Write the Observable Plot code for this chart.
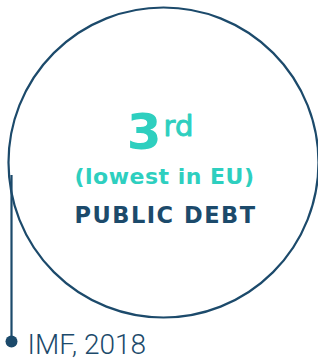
<!DOCTYPE html>
<html>
<head>
<meta charset="utf-8">
<script src="https://cdn.jsdelivr.net/npm/d3@7"></script>
<script src="https://cdn.jsdelivr.net/npm/@observablehq/plot@0.6"></script>
<style>
  html, body { margin: 0; padding: 0; background: #fff; }
  svg { display: block; font-family: "DejaVu Sans", sans-serif; }
</style>
</head>
<body>
<div id="chart"></div>
<script>
const rankNumber = ["3"];
const rankSuffix = ["rd"];
const rankNote = ["(lowest in EU)"];
const topic = ["PUBLIC DEBT"];
const source = ["IMF, 2018"];

const navy = "#1c4a6b";
const teal = "#2ecfbf";

const plot = Plot.plot({
  width: 318,
  height: 360,
  margin: 0,
  x: {domain: [0, 318], range: [0, 318], axis: null},
  y: {domain: [0, 360], range: [0, 360], axis: null},
  marks: [
    Plot.ruleX(source, {x: () => 11, y1: () => 175, y2: () => 341, stroke: navy, strokeWidth: 2.2}),
    Plot.dot(topic, {x: () => 163, y: () => 162, r: 155, stroke: navy, strokeWidth: 2.2, fill: "none"}),
    Plot.dot(source, {x: () => 11, y: () => 341, r: 6, fill: navy, stroke: "none"}),
    Plot.text(source, {x: () => 27, y: () => 353, text: d => d, textAnchor: "start", lineAnchor: "bottom", fontSize: 28, fontWeight: 300, fontFamily: "Roboto", fill: navy}),
    Plot.text(rankNumber, {x: () => 161, y: () => 148, text: d => d, textAnchor: "end", lineAnchor: "bottom", fontSize: 50, fontWeight: 700, fill: teal}),
    Plot.text(rankSuffix, {x: () => 163, y: () => 135, text: d => d, textAnchor: "start", lineAnchor: "bottom", fontSize: 29, fontWeight: 400, fill: teal, stroke: teal, strokeWidth: 0.9}),
    Plot.text(rankNote, {x: () => 164, y: () => 183, text: d => d, textAnchor: "middle", lineAnchor: "bottom", fontSize: 22, fontWeight: 700, fill: teal}),
    Plot.text(topic, {x: () => 165, y: () => 222, text: d => d, textAnchor: "middle", lineAnchor: "bottom", fontSize: 22.5, fontWeight: 700, fill: navy})
  ]
});
const spacing = new Map([[topic[0], "1.5px"], [rankNote[0], "0.5px"]]);
d3.select(plot).selectAll("text").each(function() {
  const s = spacing.get(this.textContent);
  if (s) this.setAttribute("letter-spacing", s);
});
document.getElementById("chart").appendChild(plot);
</script>
</body>
</html>
